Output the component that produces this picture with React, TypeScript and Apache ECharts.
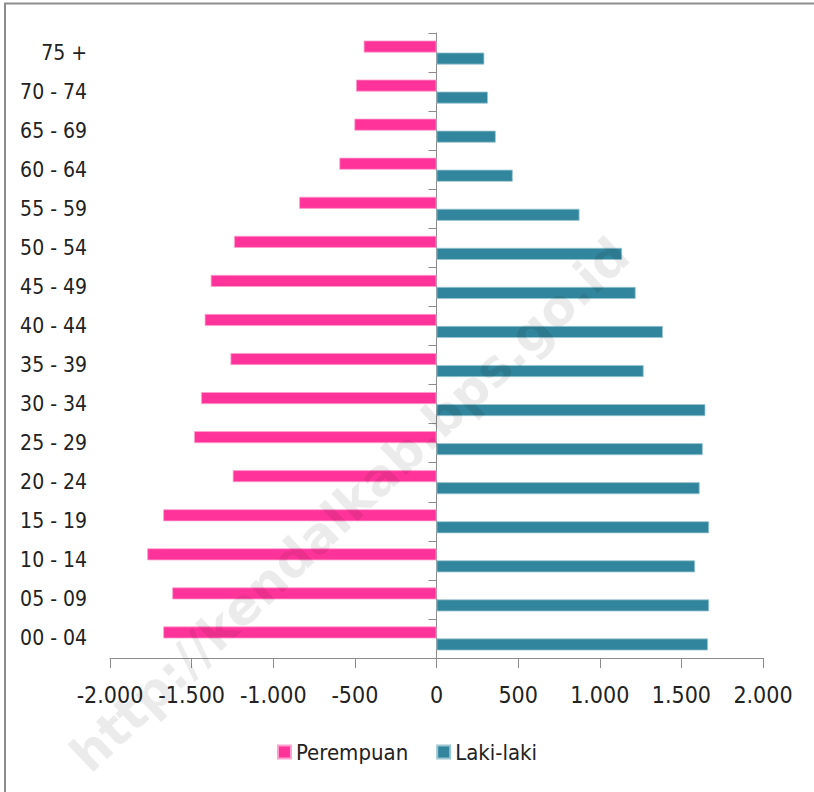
import React, { useEffect, useRef } from "react";
import * as echarts from "echarts";

const categories = [
  "00 - 04", "05 - 09", "10 - 14", "15 - 19", "20 - 24", "25 - 29", "30 - 34", "35 - 39",
  "40 - 44", "45 - 49", "50 - 54", "55 - 59", "60 - 64", "65 - 69", "70 - 74", "75 +",
];
const perempuan = [1674, 1619, 1772, 1674, 1248, 1485, 1442, 1262, 1420, 1383, 1240, 841, 595, 503, 493, 446];
const lakiLaki = [1663, 1670, 1584, 1670, 1612, 1631, 1647, 1269, 1387, 1220, 1137, 876, 467, 363, 315, 293];
const seriesNames = ["Perempuan", "Laki-laki"];
const watermark = "http://kendalkab.bps.go.id";

const FONT = '"DejaVu Sans Condensed", "Liberation Sans", sans-serif';

function fmt(v: number): string {
  const s = Math.abs(v).toString().replace(/\B(?=(\d{3})+(?!\d))/g, ".");
  return (v < 0 ? "-" : "") + s;
}

export default function App() {
  const ref = useRef<HTMLDivElement>(null);
  useEffect(() => {
    if (!ref.current) return;
    const chart = echarts.init(ref.current, undefined, { renderer: "svg" });
    chart.setOption({
      animation: false,
      backgroundColor: "#ffffff",
      textStyle: { fontFamily: FONT },
      grid: { left: 110, right: 51, top: 33, bottom: 134, containLabel: false },
      legend: {
        data: seriesNames,
        bottom: 24,
        left: "center",
        itemWidth: 13,
        itemHeight: 13,
        itemGap: 28,
        icon: "rect",
        textStyle: { fontFamily: FONT, fontSize: 22, color: "#222" },
      },
      xAxis: {
        type: "value",
        min: -2000,
        max: 2000,
        interval: 500,
        splitLine: { show: false },
        axisLine: { show: true, onZero: false, lineStyle: { color: "#8c8c8c", width: 1 } },
        axisTick: { show: true, length: 10, lineStyle: { color: "#8c8c8c" } },
        axisLabel: {
          margin: 25,
          fontSize: 23,
          fontFamily: FONT,
          color: "#222",
          formatter: (v: number) => fmt(v),
        },
      },
      yAxis: [
        {
          type: "category",
          data: categories,
          axisLine: { show: false, onZero: false },
          axisTick: { show: false },
          axisLabel: { margin: 23, fontSize: 21, fontFamily: FONT, color: "#222" },
        },
        {
          type: "category",
          data: categories,
          position: "left",
          axisLine: { show: true, onZero: true, lineStyle: { color: "#8c8c8c", width: 1 } },
          axisTick: { show: true, length: 8, lineStyle: { color: "#8c8c8c" } },
          axisLabel: { show: false },
        },
      ],
      series: [
        {
          name: "Perempuan",
          type: "bar",
          yAxisIndex: 0,
          data: perempuan.map((v) => -v),
          barWidth: 12,
          barGap: "0%",
          itemStyle: { color: "#ff3399", borderColor: "#ff9fcf", borderWidth: 0.8 },
        },
        {
          name: "Laki-laki",
          type: "bar",
          yAxisIndex: 0,
          data: lakiLaki,
          barWidth: 12,
          barGap: "0%",
          itemStyle: { color: "#31859c", borderColor: "#9cc6d2", borderWidth: 0.8 },
        },
      ],
      graphic: [
        {
          type: "rect",
          silent: true,
          shape: { x: 5, y: 3.5, width: 1000, height: 1000 },
          style: { fill: "none", stroke: "#8c8c8c", lineWidth: 2 },
          z: 50,
        },
        {
          type: "text",
          silent: true,
          x: 350,
          y: 505,
          rotation: 0.76,
          z: 100,
          style: {
            text: watermark,
            fill: "rgba(0,0,0,0.08)",
            fontSize: 50,
            fontWeight: "bold",
            fontFamily: '"DejaVu Sans", sans-serif',
            textAlign: "center",
            textVerticalAlign: "middle",
          },
        },
      ],
    });
    return () => chart.dispose();
  }, []);
  return (
    <div
      ref={ref}
      style={{ position: "absolute", left: 0, top: 0, width: 814, height: 792 }}
    />
  );
}
